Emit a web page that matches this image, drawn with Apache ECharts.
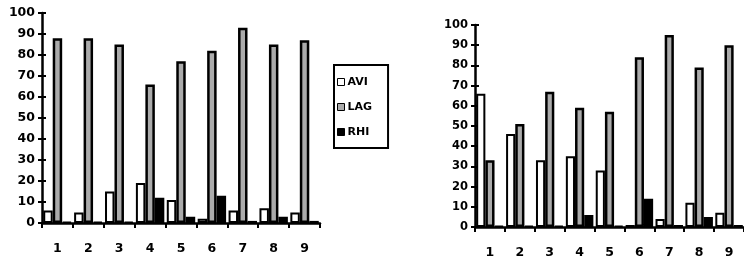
<!DOCTYPE html>
<html>
<head>
<meta charset="utf-8">
<script src="https://cdn.jsdelivr.net/npm/echarts@6/dist/echarts.min.js"></script>
<style>html,body{margin:0;padding:0;background:#fff}#c{width:744px;height:259px}</style>
</head>
<body>
<div id="c"></div>
<script>
const categories = ['1','2','3','4','5','6','7','8','9'];
const seriesNames = ['AVI','LAG','RHI'];
const yTicks = [0,10,20,30,40,50,60,70,80,90,100];
// Left chart
const leftAVI = [6, 5, 15, 19, 11, 2, 6, 7, 5];
const leftLAG = [88, 88, 85, 66, 77, 82, 93, 85, 87];
const leftRHI = [0.5, 0.5, 0.5, 12, 3, 13, 1, 3, 1];
// Right chart
const rightAVI = [66, 46, 33, 35, 28, 1, 4, 12, 7];
const rightLAG = [33, 51, 67, 59, 57, 84, 95, 79, 90];
const rightRHI = [0.5, 0.5, 0.5, 6, 0.5, 14, 1, 5, 1];

const FONT = 'DejaVu Sans';
const colors = {AVI: '#ffffff', LAG: '#ababab', RHI: '#000000'};

function xAxisFor(gi) {
  return {
    type: 'category', gridIndex: gi, data: categories,
    axisLine: {lineStyle: {color: '#000', width: 2.5}},
    axisTick: {show: true, length: 5, lineStyle: {color: '#000', width: 2}, alignWithLabel: false},
    axisLabel: {color: '#000', fontFamily: FONT, fontWeight: 'bold', fontSize: 12.5, margin: 19}
  };
}
function yAxesFor(gi, fs) {
  return [{
    type: 'value', gridIndex: gi, min: yTicks[0], max: yTicks[yTicks.length-1], interval: 10,
    splitLine: {show: false},
    axisLine: {show: true, lineStyle: {color: '#000', width: 2.5}},
    axisTick: {show: true, length: 4, lineStyle: {color: '#000', width: 2}},
    axisLabel: {color: '#000', fontFamily: FONT, fontWeight: 'bold', fontSize: fs, margin: 7}
  }, {
    type: 'value', gridIndex: gi, min: yTicks[0], max: yTicks[yTicks.length-1], interval: 10,
    position: 'left', splitLine: {show: false},
    axisLine: {show: false},
    axisTick: {show: true, inside: true, length: 4, lineStyle: {color: '#000', width: 2}},
    axisLabel: {show: false}
  }];
}
function bars(name, data, gi) {
  return {
    name: name, type: 'bar', xAxisIndex: gi, yAxisIndex: gi * 2, data: data,
    barGap: '0%', barCategoryGap: '8%',
    itemStyle: {color: colors[name], borderColor: '#000', borderWidth: name === 'LAG' ? 2.5 : 2},
    emphasis: {disabled: true}
  };
}

const chart = echarts.init(document.getElementById('c'), null, {renderer: 'canvas'});
chart.setOption({
  animation: false,
  grid: [
    {left: 42, top: 13, width: 278, height: 210, containLabel: false},
    {left: 475, top: 25, width: 269, height: 205, containLabel: false}
  ],
  xAxis: [xAxisFor(0), xAxisFor(1)],
  yAxis: [...yAxesFor(0, 12.5), ...yAxesFor(1, 11.5)],
  legend: {
    data: seriesNames, orient: 'vertical', left: 334, top: 65,
    itemWidth: 7, itemHeight: 7, itemGap: 13,
    padding: [11, 16, 10, 3],
    borderColor: '#000', borderWidth: 2,
    itemStyle: {borderWidth: 1, borderColor: '#000'},
    textStyle: {color: '#000', fontFamily: FONT, fontWeight: 'bold', fontSize: 11, lineHeight: 12, padding: [0,0,0,-2]},
    icon: 'rect', selectedMode: false
  },
  series: [
    bars('AVI', leftAVI, 0), bars('LAG', leftLAG, 0), bars('RHI', leftRHI, 0),
    bars('AVI', rightAVI, 1), bars('LAG', rightLAG, 1), bars('RHI', rightRHI, 1)
  ]
});
</script>
</body>
</html>
